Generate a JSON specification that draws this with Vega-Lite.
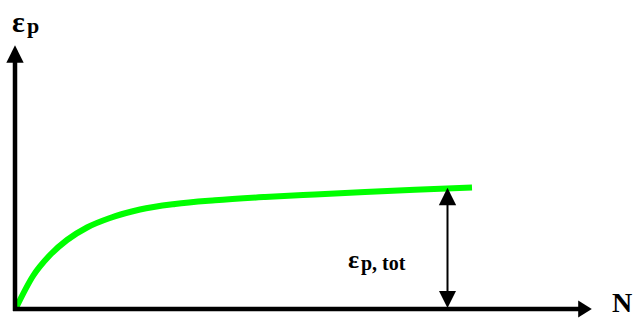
{
  "$schema": "https://vega.github.io/schema/vega-lite/v6.json",
  "width": 636,
  "height": 320,
  "autosize": {"type": "fit", "contains": "padding"},
  "padding": 0,
  "config": {"view": {"stroke": null}},
  "layer": [
    {
      "data": {"values": [
        {"n": 1, "e": 1}, {"n": 18, "e": 33}, {"n": 35, "e": 54}, {"n": 52, "e": 69},
        {"n": 72, "e": 81.5}, {"n": 95, "e": 91}, {"n": 125, "e": 99.5}, {"n": 160, "e": 105},
        {"n": 200, "e": 108.7}, {"n": 250, "e": 112}, {"n": 300, "e": 114.6}, {"n": 350, "e": 117},
        {"n": 400, "e": 119.2}, {"n": 457, "e": 121.5}
      ]},
      "mark": {"type": "line", "color": "#00ff00", "strokeWidth": 6, "interpolate": "monotone", "strokeCap": "butt"},
      "encoding": {
        "x": {"field": "n", "type": "quantitative", "scale": {"domain": [-15, 621], "nice": false, "zero": false}, "axis": null},
        "y": {"field": "e", "type": "quantitative", "scale": {"domain": [-11, 309], "nice": false, "zero": false}, "axis": null}
      }
    },
    {
      "data": {"values": [{"x": 0, "y": -2, "y2": 247}]},
      "mark": {"type": "rule", "color": "black", "strokeWidth": 4.5},
      "encoding": {
        "x": {"field": "x", "type": "quantitative", "scale": {"domain": [-15, 621], "nice": false, "zero": false}, "axis": null},
        "y": {"field": "y", "type": "quantitative", "scale": {"domain": [-11, 309], "nice": false, "zero": false}, "axis": null},
        "y2": {"field": "y2"}
      }
    },
    {
      "data": {"values": [{"x": -2, "x2": 564, "y": 0}]},
      "mark": {"type": "rule", "color": "black", "strokeWidth": 4.5},
      "encoding": {
        "x": {"field": "x", "type": "quantitative", "scale": {"domain": [-15, 621], "nice": false, "zero": false}, "axis": null},
        "x2": {"field": "x2"},
        "y": {"field": "y", "type": "quantitative", "scale": {"domain": [-11, 309], "nice": false, "zero": false}, "axis": null}
      }
    },
    {
      "data": {"values": [{"x": 432.5, "y": 16, "y2": 105}]},
      "mark": {"type": "rule", "color": "black", "strokeWidth": 2},
      "encoding": {
        "x": {"field": "x", "type": "quantitative", "scale": {"domain": [-15, 621], "nice": false, "zero": false}, "axis": null},
        "y": {"field": "y", "type": "quantitative", "scale": {"domain": [-11, 309], "nice": false, "zero": false}, "axis": null},
        "y2": {"field": "y2"}
      }
    },
    {
      "data": {"values": [{"x": 0, "y": 255}, {"x": 432.5, "y": 112.5}]},
      "mark": {"type": "point", "filled": true, "color": "black", "opacity": 1, "strokeWidth": 0, "shape": "M-1,1 L0,-1 L1,1 Z", "size": 300},
      "encoding": {
        "x": {"field": "x", "type": "quantitative", "scale": {"domain": [-15, 621], "nice": false, "zero": false}, "axis": null},
        "y": {"field": "y", "type": "quantitative", "scale": {"domain": [-11, 309], "nice": false, "zero": false}, "axis": null}
      }
    },
    {
      "data": {"values": [{"x": 432.5, "y": 9.5}]},
      "mark": {"type": "point", "filled": true, "color": "black", "opacity": 1, "strokeWidth": 0, "shape": "M-1,-1 L0,1 L1,-1 Z", "size": 289},
      "encoding": {
        "x": {"field": "x", "type": "quantitative", "scale": {"domain": [-15, 621], "nice": false, "zero": false}, "axis": null},
        "y": {"field": "y", "type": "quantitative", "scale": {"domain": [-11, 309], "nice": false, "zero": false}, "axis": null}
      }
    },
    {
      "data": {"values": [{"x": 570, "y": 0}]},
      "mark": {"type": "point", "filled": true, "color": "black", "opacity": 1, "strokeWidth": 0, "shape": "M-0.8,-1 L0.8,0 L-0.8,1 Z", "size": 289},
      "encoding": {
        "x": {"field": "x", "type": "quantitative", "scale": {"domain": [-15, 621], "nice": false, "zero": false}, "axis": null},
        "y": {"field": "y", "type": "quantitative", "scale": {"domain": [-11, 309], "nice": false, "zero": false}, "axis": null}
      }
    },
    {
      "data": {"values": [{"x": -3, "y": 277, "t": "ε"}]},
      "mark": {"type": "text", "font": "Liberation Serif", "fontWeight": "bold", "fontSize": 30, "align": "left", "baseline": "alphabetic", "color": "black"},
      "encoding": {
        "x": {"field": "x", "type": "quantitative", "scale": {"domain": [-15, 621], "nice": false, "zero": false}, "axis": null},
        "y": {"field": "y", "type": "quantitative", "scale": {"domain": [-11, 309], "nice": false, "zero": false}, "axis": null},
        "text": {"field": "t"}
      }
    },
    {
      "data": {"values": [{"x": 333, "y": 41, "t": "ε"}]},
      "mark": {"type": "text", "font": "Liberation Serif", "fontWeight": "bold", "fontSize": 26, "align": "left", "baseline": "alphabetic", "color": "black"},
      "encoding": {
        "x": {"field": "x", "type": "quantitative", "scale": {"domain": [-15, 621], "nice": false, "zero": false}, "axis": null},
        "y": {"field": "y", "type": "quantitative", "scale": {"domain": [-11, 309], "nice": false, "zero": false}, "axis": null},
        "text": {"field": "t"}
      }
    },
    {
      "data": {"values": [{"x": 12, "y": 276, "t": "p"}]},
      "mark": {"type": "text", "font": "Liberation Serif", "fontWeight": "bold", "fontSize": 22, "align": "left", "baseline": "alphabetic", "color": "black"},
      "encoding": {
        "x": {"field": "x", "type": "quantitative", "scale": {"domain": [-15, 621], "nice": false, "zero": false}, "axis": null},
        "y": {"field": "y", "type": "quantitative", "scale": {"domain": [-11, 309], "nice": false, "zero": false}, "axis": null},
        "text": {"field": "t"}
      }
    },
    {
      "data": {"values": [{"x": 346, "y": 39, "t": "p, tot"}]},
      "mark": {"type": "text", "font": "Liberation Serif", "fontWeight": "bold", "fontSize": 20, "align": "left", "baseline": "alphabetic", "color": "black"},
      "encoding": {
        "x": {"field": "x", "type": "quantitative", "scale": {"domain": [-15, 621], "nice": false, "zero": false}, "axis": null},
        "y": {"field": "y", "type": "quantitative", "scale": {"domain": [-11, 309], "nice": false, "zero": false}, "axis": null},
        "text": {"field": "t"}
      }
    },
    {
      "data": {"values": [{"x": 597, "y": -3, "t": "N"}]},
      "mark": {"type": "text", "font": "Liberation Serif", "fontWeight": "bold", "fontSize": 28, "align": "left", "baseline": "alphabetic", "color": "black"},
      "encoding": {
        "x": {"field": "x", "type": "quantitative", "scale": {"domain": [-15, 621], "nice": false, "zero": false}, "axis": null},
        "y": {"field": "y", "type": "quantitative", "scale": {"domain": [-11, 309], "nice": false, "zero": false}, "axis": null},
        "text": {"field": "t"}
      }
    }
  ]
}
